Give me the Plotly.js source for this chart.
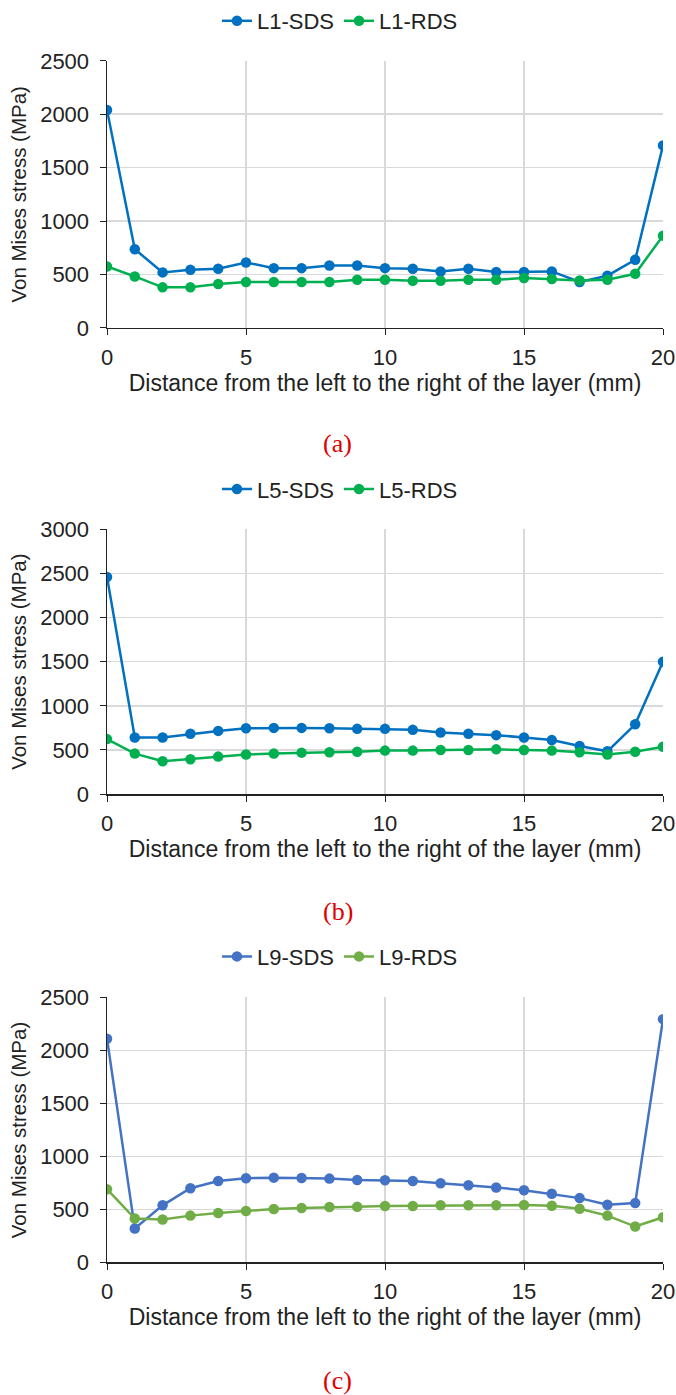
<!DOCTYPE html>
<html>
<head>
<meta charset="utf-8">
<script src="https://cdn.plot.ly/plotly-3.0.1.min.js"></script>
<style>html,body{margin:0;padding:0;background:#fff;}#chart{width:676px;height:1395px;}</style>
</head>
<body>
<div id="chart"></div>
<script>
const distance = [0,1,2,3,4,5,6,7,8,9,10,11,12,13,14,15,16,17,18,19,20];
const xTicks = [0,5,10,15,20];

const L1_SDS = [2040,736,519,543,553,612,559,559,584,584,559,553,528,553,522,522,528,429,488,637,1708];
const L1_RDS = [575,481,379,379,410,429,429,429,429,450,450,441,441,450,450,466,457,444,450,506,863];

const L5_SDS = [2459,642,642,683,716,746,750,750,746,739,739,728,698,683,668,642,612,545,485,791,1500];
const L5_RDS = [623,459,373,396,425,448,459,470,474,481,493,493,500,500,507,500,493,474,448,481,537];

const L9_SDS = [2111,321,539,700,769,794,800,797,791,778,775,769,747,729,707,682,648,607,545,560,2295];
const L9_RDS = [691,414,405,442,467,486,504,514,523,526,532,532,539,539,539,542,535,507,442,339,426];

const seriesNames = [["L1-SDS","L1-RDS"],["L5-SDS","L5-RDS"],["L9-SDS","L9-RDS"]];
const panelLabels = ["(a)","(b)","(c)"];
const yMax = [2500,3000,2500];
const xTitle = "Distance from the left to the right of the layer (mm)";
const yTitle = "Von Mises stress (MPa)";

const H = 1395;
const colors = [["#0070C0","#00B050"],["#0070C0","#00B050"],["#4472C4","#70AD47"]];
const dataSets = [[L1_SDS,L1_RDS],[L5_SDS,L5_RDS],[L9_SDS,L9_RDS]];
const tops = [56,526,996], bottoms = [324,792,1262];
const legendY = [16,486,955];
const labelY = [440,910,1380];

const traces = [];
const layout = {
  width:676, height:1395,
  margin:{l:107,r:13,t:0,b:0},
  paper_bgcolor:"#fff", plot_bgcolor:"#fff",
  font:{family:"Liberation Sans, Arial, sans-serif", color:"#222", size:21},
  showlegend:true,
  annotations:[]
};
for (let p=0;p<3;p++){
  const sfx = p===0?"":String(p+1);
  const lg = "legend"+sfx;
  for (let s=0;s<2;s++){
    traces.push({
      x:distance, y:dataSets[p][s], name:seriesNames[p][s],
      type:"scatter", mode:"lines+markers",
      xaxis:"x"+sfx, yaxis:"y"+sfx, legend:lg,
      line:{color:colors[p][s], width:2.5},
      marker:{color:colors[p][s], size:10.5}
    });
  }
  layout["xaxis"+sfx] = {
    domain:[0,1], anchor:"y"+sfx, range:[0,20], tickvals:xTicks, ticktext:xTicks.map(String),
    showline:true, linecolor:"#222", linewidth:1.5, ticks:"outside", ticklen:6, tickcolor:"#222",
    showgrid:true, gridcolor:"#d9d9d9", gridwidth:1.5, zeroline:false,
    tickfont:{size:22, color:"#222"}, ticklabelstandoff:3,
    title:{text:xTitle, font:{size:23, color:"#222"}, standoff:3}
  };
  layout["yaxis"+sfx] = {
    domain:[1-bottoms[p]/H, 1-tops[p]/H], anchor:"x"+sfx, range:[0,yMax[p]], dtick:500,
    showline:true, linecolor:"#222", linewidth:1.5, ticks:"outside", ticklen:6, tickcolor:"#222",
    showgrid:true, gridcolor:"#d9d9d9", gridwidth:1.5, zeroline:false,
    tickfont:{size:22, color:"#222"}, ticklabelstandoff:6,
    title:{text:yTitle, font:{size:20.5, color:"#222"}, standoff:8}
  };
  layout[lg] = {
    orientation:"h", x:0.419, xanchor:"center", y:1-legendY[p]/H, yanchor:"middle",
    font:{size:22, color:"#222"}, bgcolor:"rgba(0,0,0,0)", itemwidth:30, tracegroupgap:0
  };
  layout.annotations.push({
    text:panelLabels[p], xref:"paper", yref:"paper", x:0.415, y:1-labelY[p]/H,
    xanchor:"center", yanchor:"middle", showarrow:false,
    font:{family:"Liberation Serif, Times New Roman, serif", size:26, color:"#E00000"}
  });
}
Plotly.newPlot("chart", traces, layout, {displayModeBar:false, staticPlot:true});
</script>
</body>
</html>
